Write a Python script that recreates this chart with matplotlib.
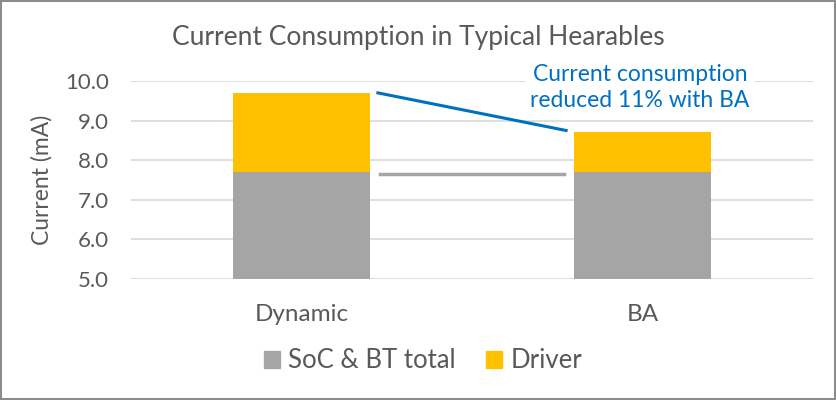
import matplotlib.pyplot as plt
from matplotlib.patches import Patch

plt.rcParams['font.family'] = ['Lato', 'DejaVu Sans']

# data
categories = ['Dynamic', 'BA']
soc_bt = [7.7, 7.7]
driver = [2.0, 1.0]
ticks = [5.0, 6.0, 7.0, 8.0, 9.0, 10.0]

grey = '#A5A5A5'
gold = '#FFC000'
txt = '#595959'
blue = '#0070C0'

fig = plt.figure(figsize=(8.36, 4.0), dpi=100)
fig.patch.set_edgecolor('#8C8C8C')
fig.patch.set_linewidth(1.5)
ax = fig.add_axes([131 / 836, 1 - 279 / 400, 682 / 836, 198 / 400])

x = range(len(categories))
ax.bar(x, soc_bt, width=0.4, color=grey, zorder=2, label='SoC & BT total')
ax.bar(x, driver, width=0.4, bottom=soc_bt, color=gold, zorder=2, label='Driver')

ax.set_ylim(5, 10)
ax.set_xlim(-0.5, 1.5)
ax.set_yticks(ticks)
ax.set_yticklabels([f'{t:.1f}' for t in ticks])
ax.set_xticks(list(x))
ax.set_xticklabels(categories)
ax.yaxis.grid(True, color='#D9D9D9', linewidth=1.2, zorder=0)
ax.set_axisbelow(True)
for s in ax.spines.values():
    s.set_visible(False)
ax.tick_params(length=0, labelcolor=txt)
ax.tick_params(axis='y', pad=16, labelsize=16)
ax.tick_params(axis='x', pad=18, labelsize=17.5)
ax.set_ylabel('Current (mA)', color=txt, fontsize=16.5, labelpad=9)

# annotation lines
tot = [s + d for s, d in zip(soc_bt, driver)]
ax.plot([0.224, 0.776], [tot[0], tot[1] + 0.05], color=blue, linewidth=2.2, zorder=3)
ax.plot([0.23, 0.77], [soc_bt[0] - 0.05, soc_bt[0] - 0.05], color=grey, linewidth=2.5, zorder=3)

ax.text(0.993, 9.84, 'Current consumption\nreduced 11% with BA', color=blue, fontsize=16.5,
        ha='center', va='center', linespacing=1.33,
        bbox=dict(facecolor='white', edgecolor='none', pad=4), zorder=4)

fig.text(0.5, 1 - 37 / 400, 'Current Consumption in Typical Hearables', color=txt,
         fontsize=19, ha='center', va='center')

handles = [Patch(color=grey, label='SoC & BT total'), Patch(color=gold, label='Driver')]
fig.legend(handles=handles, loc='center', bbox_to_anchor=(0.506, 1 - 361 / 400), ncol=2,
           frameon=False, fontsize=18.5, labelcolor=txt, handlelength=0.62, handleheight=0.62,
           handletextpad=0.31, columnspacing=1.2)

fig.savefig('out.png', dpi=100)
